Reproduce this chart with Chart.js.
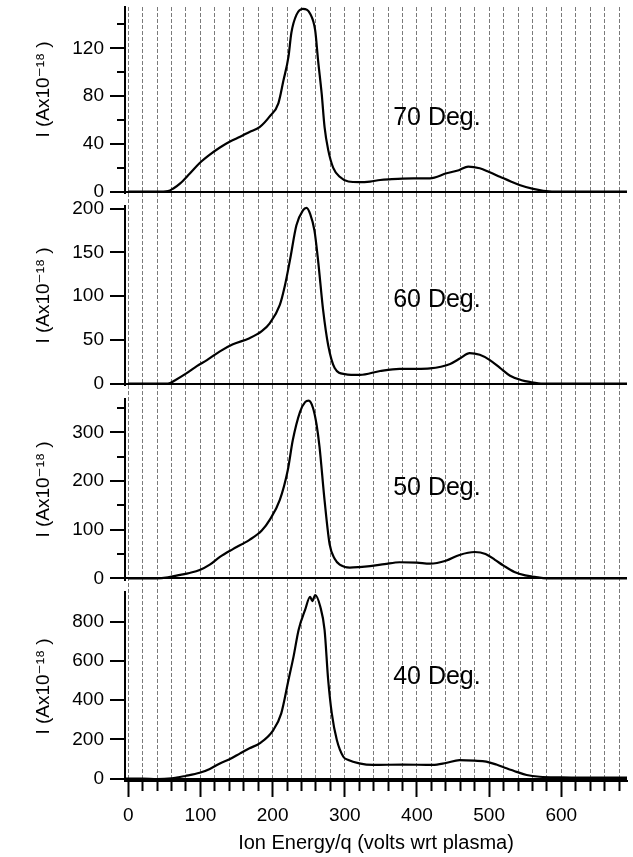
<!DOCTYPE html>
<html lang="en">
<head>
<meta charset="UTF-8">
<title>Ion energy distributions</title>
<script src="https://cdn.jsdelivr.net/npm/chart.js@4.4.0/dist/chart.umd.min.js"></script>
<style>
    body { margin: 0; background: #fff; }
    canvas { display: block; }
</style>
</head>
<body>
<canvas id="chartIons" width="633" height="857"></canvas>
<script>
    // energy (volts wrt plasma) / current (A x 1e-18)
    var energy70 = [0, 20, 40, 55, 62, 72, 85, 99, 113, 127, 141, 155, 168, 182, 196, 208, 215, 222, 226, 233, 242, 252, 259, 263, 268, 272, 277, 284, 293, 305, 320, 335, 349, 365, 380, 395, 418, 441, 458, 471, 487, 500, 515, 530, 542, 561, 575, 600, 650, 691];
    var current70 = [0, 0, 0, 0.5, 2.5, 7, 15, 24, 31, 37, 42, 46, 50, 54, 63, 74, 93, 113, 133, 148, 153, 149, 135, 110, 82, 54, 35, 20, 12.5, 8.5, 8, 8.5, 9.8, 10.5, 11, 11.2, 11.2, 15.4, 18, 21, 19.6, 16.5, 12.5, 8.5, 5.6, 2.3, 0.8, 0, 0, 0];

    var energy60 = [0, 20, 40, 55, 65, 81, 95, 109, 127, 145, 168, 185, 196, 210, 217, 224, 233, 242, 247, 252, 258, 263, 270, 277, 286, 300, 321, 349, 376, 400, 418, 446, 460, 473, 487, 501, 515, 529, 545, 556, 575, 620, 691];
    var current60 = [0, 0, 0, 0, 4, 12, 20, 27, 37, 45, 52, 60, 69, 90, 112, 141, 181, 198, 201, 194, 175, 141, 84, 44, 18, 11, 10, 14.5, 17, 17, 17.5, 22.6, 29, 35, 33, 27, 18, 9, 4, 2, 0, 0, 0];

    var energy50 = [0, 20, 39, 55, 72, 85, 99, 113, 127, 145, 168, 185, 196, 210, 221, 228, 238, 245, 250, 256, 261, 265, 272, 279, 286, 293, 307, 320, 335, 355, 376, 400, 418, 440, 459, 480, 495, 508, 520, 535, 550, 563, 580, 620, 691];
    var current50 = [0, 0, 0, 2, 7, 11, 17, 28, 44, 60, 79, 98, 120, 161, 222, 284, 342, 362, 365, 350, 315, 270, 160, 70, 40, 28, 22, 23, 25, 29, 33, 32, 30, 36, 48, 54, 50, 38, 26, 13, 6, 3, 0, 0, 0];

    var energy40 = [-5, 20, 40, 60, 79, 99, 113, 127, 141, 155, 168, 182, 201, 212, 222, 229, 236, 245, 252, 255, 259, 266, 272, 277, 282, 289, 298, 305, 320, 339, 380, 422, 440, 459, 480, 496, 510, 524, 538, 552, 570, 600, 650, 691];
    var current40 = [0, 0, -2, 2, 14, 30, 50, 78, 100, 129, 155, 180, 248, 333, 503, 622, 758, 860, 927, 905, 936, 877, 758, 503, 333, 197, 112, 95, 78, 70, 72, 70, 80, 95, 92, 87, 72, 53, 35, 19, 10, 7, 5, 5];

    var panelNames = ['70 Deg.', '60 Deg.', '50 Deg.', '40 Deg.'];

    // tick positions
    var xTicks = [0, 20, 40, 60, 80, 100, 120, 140, 160, 180, 200, 220, 240, 260, 280, 300, 320, 340, 360, 380, 400, 420, 440, 460, 480, 500, 520, 540, 560, 580, 600, 620, 640, 660, 680];
    var yTicks70 = [0, 20, 40, 60, 80, 100, 120, 140];
    var yTicks60 = [0, 50, 100, 150, 200];
    var yTicks50 = [0, 50, 100, 150, 200, 250, 300, 350];
    var yTicks40 = [0, 200, 400, 600, 800];

    var FONT = '"Liberation Sans", "DejaVu Sans", Arial, sans-serif';
    var AXIS_W = 97;
    var LABEL_X = 367;
    var Y_TITLE = 'I (Ax10\u207B\u00B9\u2078 )';

    // panel layout: range, height in px (stack weight), where the angle label sits
    var panels = [
        { id: 'y1', min: -1.1, max: 154.6, h: 186, major: 40, ticks: yTicks70, labelY: 62, title: '    ' + Y_TITLE },
        { id: 'y2', min: -1.5, max: 203.1, h: 179, major: 50, ticks: yTicks60, labelY: 96, title: Y_TITLE },
        { id: 'y3', min: -3.5, max: 368.4, h: 181, major: 100, ticks: yTicks50, labelY: 185, title: Y_TITLE },
        { id: 'y4', min: -11.7, max: 951.3, h: 189, major: 200, ticks: yTicks40, labelY: 518, title: Y_TITLE }
    ];
    var gaps = [13, 14, 12];

    function noPadding(s) {
        s.paddingTop = 0; s.paddingBottom = 0; s.paddingLeft = 0; s.paddingRight = 0;
    }

    function panelAxis(p, weight) {
        return {
            type: 'linear', position: 'left', stack: 'panels', stackWeight: p.h, weight: weight,
            min: p.min, max: p.max,
            afterBuildTicks: function (s) { s.ticks = p.ticks.map(function (v) { return { value: v }; }); },
            afterFit: function (s) { s.width = AXIS_W; noPadding(s); },
            border: { color: '#000', width: 2 },
            grid: {
                drawOnChartArea: true, drawTicks: true, tickLength: 15,
                color: '#000',
                lineWidth: function (c) { return c.tick && c.tick.value === 0 ? 2 : 0; },
                tickColor: '#000', tickWidth: 2,
                tickBorderDash: function (c) { return c.tick && c.tick.value % p.major !== 0 ? [0, 7, 8, 0] : []; }
            },
            ticks: {
                autoSkip: false, padding: 6, color: '#000', font: { size: 19 },
                callback: function (v) { return v % p.major === 0 ? v : ''; }
            },
            title: { display: true, text: p.title, color: '#000', font: { size: 19 }, padding: { top: 4, bottom: 0 } }
        };
    }

    function gapAxis(h, weight) {
        return {
            type: 'linear', position: 'left', stack: 'panels', stackWeight: h, weight: weight,
            min: 0, max: 1, display: true,
            afterFit: function (s) { s.width = AXIS_W; noPadding(s); },
            border: { display: false },
            grid: { display: false, drawTicks: false },
            ticks: { display: false }
        };
    }

    var scales = {
        x: {
            type: 'linear', min: -4.5, max: 691,
            afterBuildTicks: function (s) { s.ticks = xTicks.map(function (v) { return { value: v }; }); },
            afterFit: function (s) { s.height = 76; noPadding(s); },
            border: { color: '#000', width: 2, dash: [4, 2] },
            grid: {
                color: '#7a7a7a', lineWidth: 1, tickLength: 16, tickColor: '#000', tickWidth: 2,
                tickBorderDash: function (c) { return c.tick && c.tick.value % 100 !== 0 ? [9, 40] : []; }
            },
            ticks: {
                autoSkip: false, maxRotation: 0, padding: 7, color: '#000', font: { size: 19 },
                callback: function (v) { return v % 100 === 0 ? v : ''; }
            },
            title: { display: true, text: 'Ion Energy/q (volts wrt plasma)', color: '#000', font: { size: 20 }, padding: { top: 0, bottom: 2 } }
        }
    };
    scales.y1 = panelAxis(panels[0], 7);
    scales.g1 = gapAxis(gaps[0], 6);
    scales.y2 = panelAxis(panels[1], 5);
    scales.g2 = gapAxis(gaps[1], 4);
    scales.y3 = panelAxis(panels[2], 3);
    scales.g3 = gapAxis(gaps[2], 2);
    scales.y4 = panelAxis(panels[3], 1);

    function series(xs, ys, axis) {
        return {
            data: xs.map(function (x, i) { return { x: x, y: ys[i] }; }),
            yAxisID: axis,
            borderColor: '#000', borderWidth: 2.2, pointRadius: 0,
            cubicInterpolationMode: 'monotone'
        };
    }

    // "70 Deg." etc, placed in data coordinates of each panel
    var angleLabels = {
        id: 'angleLabels',
        afterDatasetsDraw: function (chart) {
            var ctx = chart.ctx;
            var xs = chart.scales.x;
            ctx.save();
            ctx.font = '25px ' + FONT;
            ctx.fillStyle = '#000';
            ctx.textBaseline = 'middle';
            panels.forEach(function (p, i) {
                ctx.fillText(panelNames[i], xs.getPixelForValue(LABEL_X), chart.scales[p.id].getPixelForValue(p.labelY));
            });
            ctx.restore();
        }
    };

    Chart.defaults.font.family = FONT;
    Chart.defaults.color = '#000';

    var ctx = document.getElementById('chartIons').getContext('2d');
    var myChart = new Chart(ctx, {
        type: 'line',
        data: {
            datasets: [
                series(energy70, current70, 'y1'),
                series(energy60, current60, 'y2'),
                series(energy50, current50, 'y3'),
                series(energy40, current40, 'y4')
            ]
        },
        options: {
            responsive: false,
            animation: false,
            devicePixelRatio: 1,
            layout: { padding: { top: 7, left: 28, right: 6, bottom: 0 } },
            plugins: { legend: { display: false }, tooltip: { enabled: false } },
            scales: scales
        },
        plugins: [angleLabels]
    });
</script>
</body>
</html>
